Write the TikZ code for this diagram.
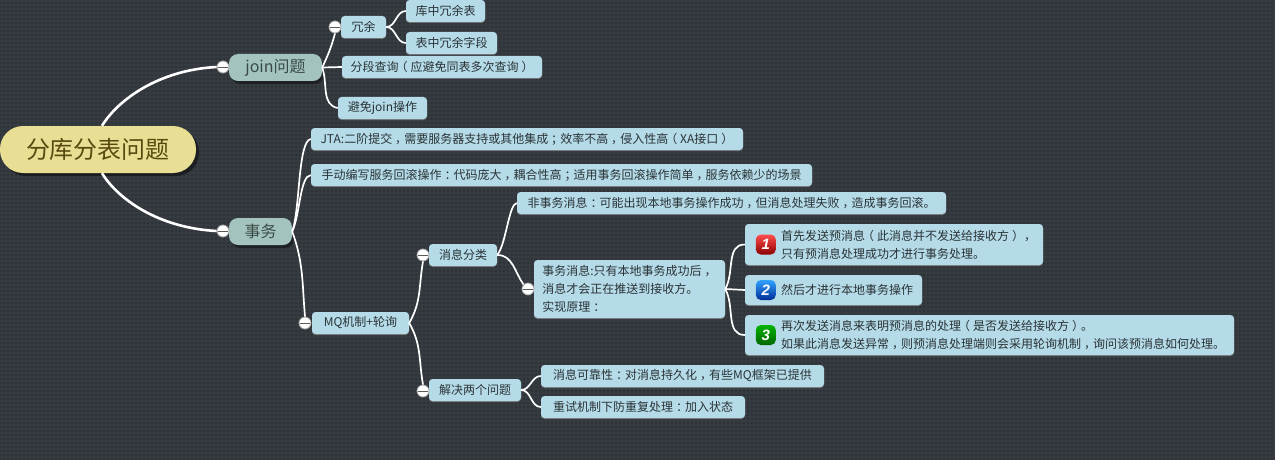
\documentclass[tikz,border=0pt]{standalone}
\usepackage{fontspec}
\setmainfont{Noto Sans CJK SC}
\newfontfamily\iconfont{Liberation Sans}
\usetikzlibrary{shadows,patterns}

\definecolor{bgdark}{HTML}{353B40}
\definecolor{bgdot}{HTML}{2D3236}
\definecolor{rootfill}{HTML}{E8DF95}
\definecolor{roottext}{HTML}{5A4A10}
\definecolor{mainfill}{HTML}{A3C4BE}
\definecolor{maintext}{HTML}{3A4A48}
\definecolor{subfill}{HTML}{B5DBE8}
\definecolor{subtext}{HTML}{2A3336}

% full width marks sit in the middle of their cell
\newcommand{\zcomma}{\hspace{3pt}，\hspace{-3pt}}
\newcommand{\zcolon}{\hspace{3pt}：\hspace{-3pt}}
\newcommand{\zsemi}{\hspace{3pt}；\hspace{-3pt}}
\newcommand{\zleft}{\hspace{-3pt}（\hspace{3pt}}
\newcommand{\zright}{\hspace{3pt}）\hspace{-3pt}}

\pgfdeclarepatternformonly{bgdots}{\pgfqpoint{-1pt}{-1pt}}{\pgfqpoint{1pt}{1pt}}{\pgfqpoint{4pt}{4pt}}{%
  \pgfpathrectangle{\pgfqpoint{-.6pt}{-.6pt}}{\pgfqpoint{1.2pt}{1.2pt}}\pgfusepath{fill}}

\tikzset{
  rootnode/.style={fill=rootfill,text=roottext,rounded corners=23pt,inner sep=0pt,
    minimum width=196pt,minimum height=47pt,font=\fontsize{24}{28}\selectfont,
    drop shadow={shadow xshift=3pt,shadow yshift=-3pt,fill=black,opacity=.45}},
  mainnode/.style={fill=mainfill,text=maintext,rounded corners=9pt,inner sep=0pt,
    minimum height=27pt,font=\fontsize{16}{18}\selectfont,
    drop shadow={shadow xshift=2pt,shadow yshift=-3pt,fill=black,opacity=.4}},
  subnode/.style={fill=subfill,text=subtext,rounded corners=3.5pt,inner sep=0pt,
    minimum height=22pt,font=\fontsize{12}{18}\selectfont,
    drop shadow={shadow xshift=0pt,shadow yshift=-1pt,fill=gray,opacity=.8}},
  steptext/.style={text=subtext,inner sep=0pt,align=left,anchor=west,
    font=\fontsize{12}{18}\selectfont},
  foldnode/.style={circle,fill=white,draw=gray!70,line width=.8pt,inner sep=0pt,
    minimum size=12pt,
    path picture={\draw[gray!70!black,line width=.8pt]
      ([xshift=1pt]path picture bounding box.west) -- ([xshift=-1pt]path picture bounding box.east);}},
  iconnode/.style={rounded corners=5pt,inner sep=0pt,minimum size=20pt,text=white,
    font=\iconfont\fontsize{15}{15}\selectfont\itshape\bfseries},
  bigline/.style={draw=white,line width=2.6pt},
  midline/.style={draw=white,line width=1.7pt},
}

\begin{document}
\begin{tikzpicture}[x=1pt,y=1pt]
\useasboundingbox (0,0) rectangle (1275,459);

% background
\fill[bgdark] (-3,-3) rectangle (1278,462);
\fill[pattern=bgdots,pattern color=bgdot] (-3,-3) rectangle (1278,462);

% main topics
\node[rootnode] (root) at (98,309.5) {分库分表问题};
\node[mainnode,minimum width=93pt] (joinq) at (275.5,391.5) {join问题};
\node[mainnode,minimum width=63pt] (trans) at (260.5,227.5) {事务};

% join branch
\node[subnode,minimum width=45pt] (redun) at (363.5,432) {冗余};
\node[subnode,minimum width=79pt] (redtable) at (445.5,448) {库中冗余表};
\node[subnode,minimum width=91pt] (redfield) at (451.5,416) {表中冗余字段};
\node[subnode,minimum width=200pt] (segment) at (442,392) {分段查询\zleft 应避免同表多次查询\zright};
\node[subnode,minimum width=89pt] (avoid) at (382.5,351) {避免join操作};

% transaction branch
\node[subnode,minimum width=432pt] (jta) at (527,320) {JTA:二阶提交\zcomma 需要服务器支持或其他集成\zsemi 效率不高\zcomma 侵入性高\zleft XA接口\zright};
\node[subnode,minimum width=501pt] (manual) at (561.5,284) {手动编写服务回滚操作\zcolon 代码庞大\zcomma 耦合性高\zsemi 适用事务回滚操作简单\zcomma 服务依赖少的场景};
\node[subnode,minimum width=97pt] (mq) at (360.5,136) {MQ机制+轮询};
\node[subnode,minimum width=68pt] (msgtype) at (463,204) {消息分类};
\node[subnode,minimum width=92pt] (solve) at (475,69) {解决两个问题};
\node[subnode,minimum width=429pt] (nontrans) at (731.5,256) {非事务消息\zcolon 可能出现本地事务操作成功\zcomma 但消息处理失败\zcomma 造成事务回滚。};
\node[subnode,minimum width=191pt,minimum height=58pt,align=left] (transmsg) at (629.5,170)
  {事务消息:只有本地事务成功后\zcomma\\消息才会正在推送到接收方。\\实现原理\zcolon};
\node[subnode,minimum width=283pt] (reliable) at (682.5,83) {消息可靠性\zcolon 对消息持久化\zcomma 有些MQ框架已提供};
\node[subnode,minimum width=204pt] (retry) at (643,52) {重试机制下防重复处理\zcolon 加入状态};

% numbered steps
\node[subnode,minimum width=298pt,minimum height=41pt] (stepa) at (894,214.5) {};
\node[subnode,minimum width=177pt,minimum height=30pt] (stepb) at (833.5,169) {};
\node[subnode,minimum width=489pt,minimum height=40pt] (stepc) at (989.5,124) {};
\node[steptext] (stepatext) at ([xshift=36pt]stepa.west) {首先发送预消息\zleft 此消息并不发送给接收方\zright\zcomma\\只有预消息处理成功才进行事务处理。};
\node[steptext] (stepbtext) at ([xshift=36pt]stepb.west) {然后才进行本地事务操作};
\node[steptext] (stepctext) at ([xshift=36pt]stepc.west) {再次发送消息来表明预消息的处理\zleft 是否发送给接收方\zright。\\如果此消息发送异常\zcomma 则预消息处理端则会采用轮询机制\zcomma 询问该预消息如何处理。};
\node[iconnode,top color=red!70!white,middle color=red!90!black,bottom color=red!55!black] (icona) at ([xshift=21pt]stepa.west) {1};
\node[iconnode,top color=blue!45!cyan!80!white,middle color=blue!55!cyan,bottom color=blue!70!cyan!60!black] (iconb) at ([xshift=21pt]stepb.west) {2};
\node[iconnode,top color=green!70!black,middle color=green!60!black,bottom color=green!40!black] (iconc) at ([xshift=21pt]stepc.west) {3};

% fold marks
\node[foldnode] (foldjoin) at (223,392) {};
\node[foldnode] (foldtrans) at (223,228) {};
\node[foldnode] (foldredun) at (335,432) {};
\node[foldnode] (foldmq) at (305,136) {};
\node[foldnode] (foldtype) at (423,204) {};
\node[foldnode] (foldsolve) at (423,68) {};
\node[foldnode] (foldmsg) at (528,170) {};

% connectors
\draw[bigline] ([xshift=4pt]root.north) .. controls +(16,26) and +(-58,-3) .. (foldjoin.west);
\draw[bigline] ([xshift=4pt]root.south) .. controls +(16,-26) and +(-58,3) .. (foldtrans.west);

\draw[midline] (joinq.east) to[out=65,in=-105] (foldredun.south);
\draw[midline] (joinq.east) -- (segment.west);
\draw[midline] (joinq.east) to[out=-70,in=170] (avoid.west);
\draw[midline] (redun.east) to[out=0,in=180] (redtable.west);
\draw[midline] (redun.east) to[out=0,in=180] (redfield.west);

\draw[midline] (trans.east) .. controls +(8,22) and +(-13,-2) .. (jta.west);
\draw[midline] (trans.east) .. controls +(8,17) and +(-11,-1) .. (manual.west);
\draw[midline] (trans.east) to[out=-70,in=95] (foldmq.north);

\draw[midline] (mq.east) to[out=60,in=-100] (foldtype.south);
\draw[midline] (mq.east) to[out=-60,in=100] (foldsolve.north);
\draw[midline] (msgtype.east) .. controls +(9,11) and +(-8,-1) .. (nontrans.west);
\draw[midline] (msgtype.east) to[out=0,in=125] (foldmsg.north west);
\draw[midline] (solve.east) to[out=0,in=180] (reliable.west);
\draw[midline] (solve.east) to[out=0,in=180] (retry.west);

\draw[midline] (transmsg.east) to[out=60,in=180] (stepa.west);
\draw[midline] (transmsg.east) -- (stepb.west);
\draw[midline] (transmsg.east) to[out=-60,in=180] (stepc.west);

\end{tikzpicture}
\end{document}
